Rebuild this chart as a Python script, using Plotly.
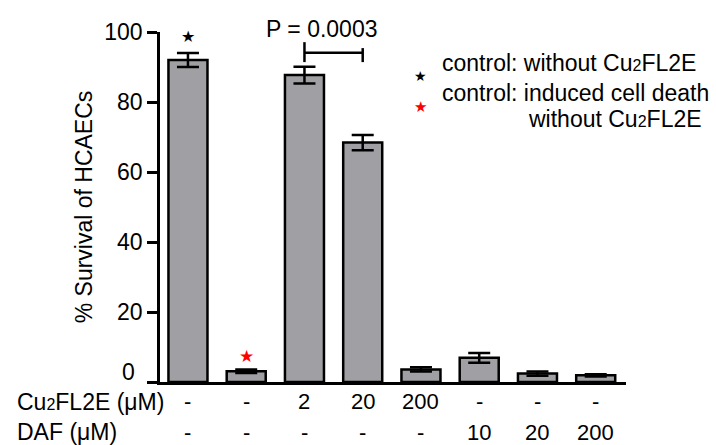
import plotly.graph_objects as go

# ---- data ----
groups = ["ctrl", "death", "Cu2", "Cu20", "Cu200", "DAF10", "DAF20", "DAF200"]
survival = [92.0, 3.1, 87.7, 68.4, 3.6, 6.9, 2.4, 1.9]
err = [2.0, 0.5, 2.4, 2.2, 0.6, 1.4, 0.6, 0.3]
cu_labels = ["-", "-", "2", "20", "200", "-", "-", "-"]
daf_labels = ["-", "-", "-", "-", "-", "10", "20", "200"]
y_ticks = [0, 20, 40, 60, 80, 100]
y_ticktext = ["", "20", "40", "60", "80", "100"]   # "0" is drawn raised, as in the original

# significance bracket between bars 3 and 4
bracket_x = [2, 3]
bracket_y = 94.1
bracket_left = [91.4, 97.1]
bracket_right = [91.4, 95.4]
p_text = "P = 0.0003"

# star markers (data coords): black on control, red on induced death
star_black = (0, 98.6)
star_red = (1, 7.4)

FONT = "Liberation Sans, Arial, Helvetica, sans-serif"
CU = 'Cu<span style="font-size:16px">2</span>FL2E'

x = list(range(len(groups)))

fig = go.Figure()
fig.add_trace(go.Bar(
    x=x, y=survival, width=0.67,
    marker=dict(color="#a0a0a4", line=dict(color="black", width=2.5)),
    error_y=dict(type="data", array=err, visible=True, color="black",
                 thickness=2.5, width=11),
    showlegend=False, hoverinfo="skip",
))

ann = []
# raised zero tick label
ann.append(dict(x=-0.049, y=0.03, xref="paper", yref="paper", text=str(y_ticks[0]),
                showarrow=False, xanchor="right", yanchor="middle",
                font=dict(size=23, color="black", family=FONT)))
# stars on bars
ann.append(dict(x=star_black[0], y=star_black[1], xref="x", yref="y", text="★",
                showarrow=False, font=dict(size=16, color="black", family="DejaVu Sans")))
ann.append(dict(x=star_red[0], y=star_red[1], xref="x", yref="y", text="★",
                showarrow=False, font=dict(size=17, color="red", family="DejaVu Sans")))

# P value text
ann.append(dict(x=2.3, y=1.009, xref="x", yref="paper", text=p_text, showarrow=False,
                yanchor="middle", font=dict(size=23, color="black", family=FONT)))

# bottom rows
for i in x:
    ann.append(dict(x=i, y=-0.057, xref="x", yref="paper", text=cu_labels[i],
                    showarrow=False, yanchor="middle",
                    font=dict(size=22, color="black", family=FONT)))
    ann.append(dict(x=i, y=-0.143, xref="x", yref="paper", text=daf_labels[i],
                    showarrow=False, yanchor="middle",
                    font=dict(size=22, color="black", family=FONT)))
ann.append(dict(x=-0.311, y=-0.057, xref="paper", yref="paper", text=CU + " (μM)",
                showarrow=False, xanchor="left", yanchor="middle",
                font=dict(size=23, color="black", family=FONT)))
ann.append(dict(x=-0.311, y=-0.143, xref="paper", yref="paper", text="DAF (μM)",
                showarrow=False, xanchor="left", yanchor="middle",
                font=dict(size=23, color="black", family=FONT)))

# legend block
ann.append(dict(x=0.558, y=0.902, xref="paper", yref="paper", text="★", showarrow=False,
                font=dict(size=14, color="black", family="DejaVu Sans")))
ann.append(dict(x=0.558, y=0.816, xref="paper", yref="paper", text="★", showarrow=False,
                font=dict(size=15, color="red", family="DejaVu Sans")))
ann.append(dict(x=0.601, y=0.911, xref="paper", yref="paper",
                text="control: without " + CU, showarrow=False,
                xanchor="left", yanchor="middle",
                font=dict(size=23, color="black", family=FONT)))
ann.append(dict(x=0.601, y=0.826, xref="paper", yref="paper",
                text="control: induced cell death", showarrow=False,
                xanchor="left", yanchor="middle",
                font=dict(size=23, color="black", family=FONT)))
ann.append(dict(x=0.785, y=0.751, xref="paper", yref="paper",
                text="without " + CU, showarrow=False,
                xanchor="left", yanchor="middle",
                font=dict(size=23, color="black", family=FONT)))

shapes = [
    dict(type="line", xref="x", yref="y", x0=bracket_x[0], x1=bracket_x[1],
         y0=bracket_y, y1=bracket_y, line=dict(color="black", width=2.5)),
    dict(type="line", xref="x", yref="y", x0=bracket_x[0], x1=bracket_x[0],
         y0=bracket_left[0], y1=bracket_left[1], line=dict(color="black", width=2.5)),
    dict(type="line", xref="x", yref="y", x0=bracket_x[1], x1=bracket_x[1],
         y0=bracket_right[0], y1=bracket_right[1], line=dict(color="black", width=2.5)),
]

fig.update_layout(
    width=716, height=445,
    margin=dict(l=160, r=90, t=32, b=63, pad=0),
    paper_bgcolor="white", plot_bgcolor="white",
    font=dict(family=FONT, size=22, color="black"),
    annotations=ann, shapes=shapes,
    bargap=0.33,
)
fig.update_xaxes(range=[-0.48, 7.52], showticklabels=False, ticks="",
                 showline=True, linecolor="black", linewidth=2.5,
                 showgrid=False, zeroline=False, fixedrange=True)
fig.update_yaxes(range=[0, 100], tickvals=y_ticks, ticktext=y_ticktext,
                 ticks="outside", ticklen=10,
                 tickwidth=2.5, tickcolor="black", showline=True, linecolor="black",
                 linewidth=2.5, showgrid=False, zeroline=False,
                 tickfont=dict(size=23, family=FONT),
                 title=dict(text="% Survival of HCAECs", font=dict(size=23, family=FONT),
                            standoff=6))

fig.write_html("out.html")
